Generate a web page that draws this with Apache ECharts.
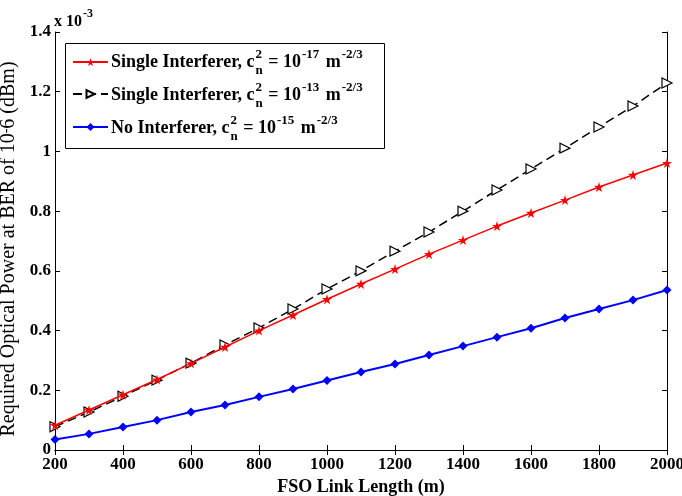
<!DOCTYPE html>
<html><head><meta charset="utf-8">
<script src="https://cdn.jsdelivr.net/npm/echarts@6/dist/echarts.min.js"></script>
<style>html,body{margin:0;padding:0;background:#fff}#c{width:682px;height:496px}</style>
</head><body><div id="c"></div>
<script>
const lengths = [200,300,400,500,600,700,800,900,1000,1100,1200,1300,1400,1500,1600,1700,1800,1900,2000];
const redVals   = [0.083,0.134,0.185,0.236,0.290,0.345,0.400,0.452,0.505,0.556,0.606,0.656,0.703,0.750,0.794,0.837,0.881,0.921,0.961];
const blackVals = [0.078,0.127,0.180,0.234,0.291,0.352,0.409,0.472,0.539,0.600,0.666,0.730,0.800,0.871,0.941,1.011,1.082,1.152,1.229];
const blueVals  = [0.035,0.054,0.077,0.100,0.127,0.151,0.178,0.204,0.233,0.261,0.288,0.318,0.348,0.378,0.408,0.442,0.472,0.502,0.536];
const seriesNames = ['Single Interferer 17','Single Interferer 13','No Interferer 15'];
const legendLabels = [
  [['Single Interferer, c','n'],['2','stack'],[' = 10','n'],['-17','sup'],[' m','n'],['-2/3','sup']],
  [['Single Interferer, c','n'],['2','stack'],[' = 10','n'],['-13','sup'],[' m','n'],['-2/3','sup']],
  [['No Interferer, c','n'],['2','stack'],[' = 10','n'],['-15','sup'],[' m','n'],['-2/3','sup']]
];
const xTicks = {min:200,max:2000,interval:200};
const yTicks = {min:0,max:1.4,interval:0.2};

const FONT = '"Liberation Serif", "Times New Roman", serif';
const cv = document.createElement('canvas').getContext('2d');
function tw(t,s){cv.font='bold '+s+'px '+FONT;return cv.measureText(t).width;}

const star = 'path://M50,0 L61,35 L98,35 L68,57 L79,91 L50,70 L21,91 L32,57 L2,35 L39,35 Z';
const pairs = v => lengths.map((x,i)=>[x,v[i]]);

const G = {left:55, right:15, top:32, bottom:46, containLabel:false, outerBoundsMode:'none'};
const graphics = [];
graphics.push({type:'rect',shape:{x:65.5,y:43.5,width:319,height:105},style:{fill:'#fff',stroke:'#000',lineWidth:1},z:10});
const rowY=[62,95,128];
legendLabels.forEach((pieces,r)=>{
  let x=111; const y=rowY[r];
  pieces.forEach(([t,k])=>{
    if(k==='n'){
      graphics.push({type:'text',z:12,style:{x:x,y:y,text:t,font:'bold 18px '+FONT,fill:'#000',textVerticalAlign:'middle'}});
      x+=tw(t,18);
    } else if(k==='sup'){
      graphics.push({type:'text',z:12,style:{x:x+1,y:y-7,text:t,font:'bold 13px '+FONT,fill:'#000',textVerticalAlign:'middle'}});
      x+=tw(t,13)+3;
    } else {
      graphics.push({type:'text',z:12,style:{x:x+1,y:y-7,text:t,font:'bold 13px '+FONT,fill:'#000',textVerticalAlign:'middle'}});
      graphics.push({type:'text',z:12,style:{x:x+1,y:y+9,text:'n',font:'bold 13px '+FONT,fill:'#000',textVerticalAlign:'middle'}});
      x+=Math.max(tw(t,13),tw('n',13))+2;
    }
  });
});
graphics.push({type:'text',style:{x:54,y:22,text:'x 10',font:'bold 16px '+FONT,fill:'#000',textVerticalAlign:'middle'}});
graphics.push({type:'text',style:{x:54+tw('x 10',16)+1,y:14,text:'-3',font:'bold 12px '+FONT,fill:'#000',textVerticalAlign:'middle'}});

const axisLine={show:true,lineStyle:{color:'#000',width:1}};
const tick={inside:true,length:5,lineStyle:{color:'#000'}};
const lblStyle={color:'#000',fontFamily:FONT,fontWeight:'bold',fontSize:17};
const chart = echarts.init(document.getElementById('c'),null,{renderer:'canvas'});
chart.setOption({
  animation:false,
  backgroundColor:'#fff',
  grid:G,
  legend:{
    orient:'vertical',left:72,top:57,padding:0,itemWidth:35,itemHeight:10,itemGap:23,
    data:seriesNames, formatter:()=>'', textStyle:{fontSize:1}, z:11, selectedMode:false
  },
  graphic:graphics,
  xAxis:[
    {type:'value',...xTicks,position:'bottom',axisLine,axisTick:tick,
     splitLine:{show:false},axisLabel:{...lblStyle,margin:6,formatter:v=>String(v)},
     name:'FSO Link Length (m)',nameLocation:'middle',nameGap:25,
     nameTextStyle:{color:'#000',fontFamily:FONT,fontWeight:'bold',fontSize:18}},
    {type:'value',...xTicks,position:'top',axisLine,axisTick:tick,
     splitLine:{show:false},axisLabel:{show:false}}
  ],
  yAxis:[
    {type:'value',...yTicks,position:'left',axisLine,axisTick:tick,
     splitLine:{show:false},axisLabel:{...lblStyle,margin:4},
     name:'Required Optical Power at BER of 10{s|-}6 (dBm)',nameLocation:'middle',nameGap:33,
     nameTextStyle:{color:'#000',fontFamily:FONT,fontWeight:'normal',fontSize:20,padding:[0,16,0,0],
       rich:{s:{fontSize:14,verticalAlign:'top',fontFamily:FONT,color:'#000'}}}},
    {type:'value',...yTicks,position:'right',axisLine,axisTick:tick,
     splitLine:{show:false},axisLabel:{show:false}}
  ],
  series:[
    {name:seriesNames[0],type:'line',data:pairs(redVals),symbol:star,symbolSize:10,
     lineStyle:{color:'#ff0000',width:1.5},itemStyle:{color:'#ff0000'},z:3},
    {name:seriesNames[1],type:'line',data:pairs(blackVals),symbol:'triangle',symbolRotate:-90,symbolSize:10,
     lineStyle:{color:'#000',width:1.5,type:[9,5]},itemStyle:{color:'#fff',borderColor:'#000',borderWidth:1.2},z:2},
    {name:seriesNames[2],type:'line',data:pairs(blueVals),symbol:'diamond',symbolSize:9,
     lineStyle:{color:'#0000ff',width:2},itemStyle:{color:'#0000ff'},z:4}
  ]
});
</script></body></html>
